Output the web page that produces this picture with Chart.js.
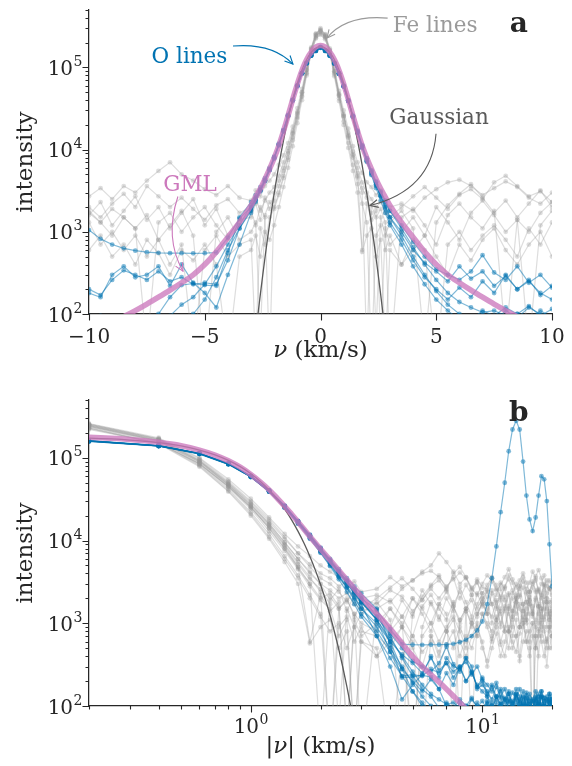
<!DOCTYPE html>
<html>
<head>
<meta charset="utf-8">
<script src="https://cdn.jsdelivr.net/npm/chart.js@4.4.1/dist/chart.umd.min.js"></script>
<style>
  body { margin: 0; background: #fff; }
  canvas { display: block; }
</style>
</head>
<body>
<canvas id="velPlot" width="572" height="383"></canvas>
<canvas id="absPlot" width="572" height="383"></canvas>
<script>
// velocity grid (km/s): coarse wings, finer core
const vel = [
  -20, -19.5, -19, -18.5, -18, -17.5, -17, -16.5, -16, -15.5, -15, -14.5, -14, -13.5, -13, -12.5, -12, -11.5, -11, -10.5,
  -10, -9.5, -9, -8.5, -8, -7.5, -7, -6.5, -6, -5.5, -5, -4.5, -4, -3.5,
  -3, -2.8, -2.6, -2.4, -2.2, -2, -1.8, -1.6, -1.4, -1.2, -1, -0.8, -0.6, -0.4, -0.2,
  0,
  0.2, 0.4, 0.6, 0.8, 1, 1.2, 1.4, 1.6, 1.8, 2, 2.2, 2.4, 2.6, 2.8, 3,
  3.5, 4, 4.5, 5, 5.5, 6, 6.5, 7, 7.5, 8, 8.5, 9, 9.5, 10,
  10.5, 11, 11.5, 12, 12.5, 13, 13.5, 14, 14.5, 15, 15.5, 16, 16.5, 17, 17.5, 18, 18.5, 19, 19.5, 20
];

// Fe line profiles (same grid as vel)
const fe1 = [
  1200, 1800, 900, 1500, 2200, 1300, 700, 1600, 2400, 1100, 1700, 900, 2000, 1400, 800, 1900, 2600, 1500, 1000, 2100,
  1600, 2300, 1200, 1800, 2700, 1400, 2000, 1100, 1700, 2500, 1200, 1900, 900, 1400,
  1500, 2200, 1400, 2600, 1900, 3000, 4200, 6000, 9500, 16000, 28000, 50000, 95000, 170000, 255000,
  300000,
  250000, 165000, 90000, 47000, 26000, 15000, 8800, 5200, 3400, 2600, 1700, 60, 1500, 900, 1300,
  1800, 1100, 40, 1300, 2100, 2900, 3800, 2600, 1700, 2400, 1500, 2200, 3200, 2000,
  1300, 2500, 1800, 900, 1600, 2300, 1400, 2000, 2800, 1700, 1100, 1900, 1300, 2400, 1600, 1000, 2100, 1500, 1200, 1800
];
const fe2 = [
  700, 1100, 500, 900, 1400, 800, 50, 1000, 600, 1300, 900, 400, 1100, 700, 1500, 900, 600, 1200, 800, 1000,
  1300, 700, 1000, 600, 900, 500, 800, 400, 700, 35, 600, 900, 500, 700,
  800, 40, 1100, 700, 1500, 1900, 2800, 4500, 7500, 13000, 24000, 44000, 85000, 160000, 240000,
  270000,
  235000, 155000, 82000, 42000, 22000, 12000, 6500, 3800, 2200, 1300, 30, 900, 1200, 600, 900,
  400, 800, 600, 30, 700, 1000, 600, 900, 1200, 800, 500, 1100, 700, 1300,
  900, 600, 1000, 1400, 800, 500, 1100, 700, 900, 1200, 600, 800, 1000, 500, 700, 1100, 800, 600, 900, 700
];
const fe3 = [
  2500, 3300, 2800, 3800, 3000, 2400, 3500, 4200, 3100, 2600, 3600, 2900, 2200, 3100, 3800, 2700, 2000, 2900, 3500, 2600,
  2700, 3400, 2500, 3600, 3000, 4200, 5500, 7000, 5000, 4200, 3300, 2800, 3600, 2600,
  2400, 3200, 2700, 3600, 4200, 5000, 6500, 8500, 12000, 19000, 32000, 55000, 100000, 175000, 260000,
  290000,
  255000, 170000, 98000, 52000, 30000, 18000, 11000, 7000, 5200, 4000, 3500, 2800, 3200, 2400, 2000,
  2200, 1800, 2600, 3300, 4000, 4300, 3600, 2800, 3400, 4100, 3500, 2600, 2200, 3000,
  3800, 3200, 2500, 2900, 3600, 4500, 3400, 2700, 3300, 4000, 3100, 2400, 3000, 3700, 4400, 3500, 2800, 3300, 2600, 3100
];
const fe4 = [
  900, 1400, 2000, 1200, 700, 1600, 1100, 45, 1300, 1800, 1000, 1500, 2100, 1200, 800, 1400, 1900, 1100, 700, 1300,
  1700, 1300, 1900, 1500, 1100, 1600, 800, 1200, 1800, 900, 30, 1000, 1500, 800,
  1000, 1300, 50, 1600, 2300, 2000, 3000, 4800, 8000, 14000, 25000, 45000, 85000, 150000, 225000,
  250000,
  220000, 150000, 85000, 45000, 25000, 14500, 8500, 4800, 600, 2200, 1400, 1800, 45, 1100, 700,
  1000, 1500, 900, 2000, 1300, 800, 1700, 2400, 1600, 1000, 1400, 40, 1200, 1800,
  2500, 1700, 1100, 1500, 2100, 1300, 900, 1600, 2200, 1400, 1000, 1700, 1200, 1900, 2600, 1500, 1100, 1800, 1300, 1000
];
const fe5 = [
  1600, 1100, 1800, 2500, 1500, 1000, 2000, 1300, 1700, 2300, 1400, 900, 1800, 1200, 2200, 1500, 1000, 1600, 2300, 1300,
  1800, 1300, 900, 1500, 1100, 40, 1300, 1700, 1000, 1500, 2000, 1200, 800, 1300,
  1800, 1200, 2000, 1500, 30, 2400, 3600, 5500, 9000, 15500, 27000, 48000, 92000, 168000, 250000,
  285000,
  245000, 160000, 88000, 46000, 25500, 14000, 8000, 4600, 3000, 35, 2100, 1500, 1900, 1300, 25,
  1500, 1900, 1200, 700, 1600, 2200, 1500, 1100, 1800, 50, 1400, 1000, 1700, 2300,
  1500, 1200, 1900, 1300, 800, 1500, 2000, 1300, 1700, 1100, 1500, 2100, 1400, 900, 1600, 1200, 1800, 1300, 900, 1400
];
const fe6 = [
  500, 800, 300, 600, 900, 400, 700, 35, 500, 800, 600, 350, 700, 500, 900, 600, 400, 750, 500, 300,
  600, 900, 500, 700, 400, 800, 550, 300, 600, 450, 700, 400, 30, 500,
  600, 900, 500, 1000, 800, 1200, 2000, 3500, 6000, 11000, 21000, 40000, 80000, 150000, 230000,
  260000,
  228000, 148000, 78000, 39000, 20000, 10500, 5500, 3000, 570, 900, 1100, 500, 800, 40, 600,
  400, 600, 900, 500, 300, 700, 450, 800, 1100, 600, 400, 700, 1000, 500,
  350, 650, 900, 550, 400, 800, 600, 450, 750, 1000, 600, 400, 700, 500, 850, 600, 400, 650, 500, 700
];
const fe7 = [
  1900, 2600, 2000, 3000, 2300, 1700, 2500, 3200, 2400, 1800, 2700, 2100, 3000, 2300, 1600, 2600, 3100, 2200, 1700, 2400,
  2000, 1500, 2200, 2900, 2000, 3600, 2700, 2000, 2600, 1900, 1400, 2100, 2500, 1700,
  2000, 2600, 1800, 2400, 3000, 3500, 4800, 7000, 10500, 17000, 29000, 50000, 93000, 165000, 245000,
  275000,
  240000, 160000, 90000, 48000, 27000, 16000, 9500, 6000, 4000, 3000, 2500, 2000, 2300, 1700, 1500,
  2000, 2700, 3500, 2600, 1900, 2800, 3300, 2500, 4000, 4800, 3600, 2700, 3100, 2300,
  2900, 3600, 2600, 2100, 2800, 3400, 2500, 1800, 2600, 3200, 2400, 1900, 2700, 3300, 2500, 2000, 2900, 2300, 2700, 2200
];

// O line profiles (same grid)
const o1 = [
  2800, 9000, 30000, 55000, 60000, 35000, 19000, 13000, 18000, 35000, 90000, 220000, 280000, 220000, 120000, 50000, 22000, 8500, 3500, 1700,
  1050, 820, 700, 630, 590, 565, 555, 550, 550, 548, 550, 560, 850, 1450,
  2000, 2500, 3200, 4200, 5700, 7900, 11400, 16800, 25500, 39500, 59000, 84000, 112000, 139000, 158000,
  174000,
  159000, 140000, 113000, 85000, 60000, 40000, 26000, 17000, 11300, 7800, 5500, 4000, 3000, 2300, 1800,
  1100, 650, 400, 260, 180, 140, 120, 105, 110, 95, 100, 85, 110, 90,
  105, 80, 95, 110, 85, 70, 95, 80, 100, 75, 90, 65, 85, 100, 70, 90, 60, 80, 70, 85
];
const o2 = [
  90, 120, 75, 100, 130, 85, 110, 70, 95, 120, 80, 105, 140, 90, 115, 75, 100, 130, 85, 110,
  70, 95, 80, 60, 85, 70, 100, 160, 225, 235, 225, 220, 550, 1500,
  2300, 2800, 3500, 4500, 6000, 8200, 11800, 17300, 26500, 40500, 60500, 85500, 113500, 140500, 161000,
  178000,
  161000, 141000, 113000, 84000, 59000, 39000, 25000, 16000, 10500, 7200, 5000, 3600, 2700, 2000, 1500,
  1000, 600, 420, 330, 250, 380, 270, 330, 220, 290, 200, 250, 180, 150,
  130, 170, 120, 150, 110, 140, 95, 125, 160, 110, 135, 90, 120, 150, 105, 130, 90, 115, 140, 100
];
const o3 = [
  110, 140, 95, 125, 150, 105, 130, 90, 115, 145, 100, 130, 160, 110, 140, 95, 125, 170, 120, 150,
  180, 160, 300, 380, 280, 300, 380, 220, 400, 240, 180, 120, 300, 700,
  1700, 2300, 3100, 4100, 5600, 7800, 11200, 16600, 25500, 39500, 59500, 84500, 112500, 139500, 159000,
  173000,
  158000, 138000, 111000, 83000, 58500, 39000, 25200, 16300, 10800, 7400, 5200, 3700, 2700, 1900, 1300,
  800, 450, 280, 200, 150, 210, 160, 250, 180, 300, 200, 260, 170, 220,
  140, 180, 130, 160, 120, 150, 105, 135, 115, 150, 100, 125, 95, 120, 140, 100, 125, 85, 110, 130
];
const o4 = [
  50, 80, 60, 95, 70, 110, 80, 60, 90, 70, 105, 80, 55, 85, 65, 95, 75, 110, 85, 60,
  95, 70, 55, 80, 60, 45, 70, 95, 130, 160, 230, 380, 700, 1200,
  2100, 2600, 3300, 4300, 5800, 8100, 11600, 17100, 26200, 40200, 60200, 85200, 113200, 140200, 160500,
  176000,
  160500, 139500, 112000, 84000, 59000, 39000, 25000, 16000, 10600, 7100, 4900, 3400, 2400, 1700, 1200,
  700, 380, 230, 150, 110, 85, 70, 95, 80, 110, 90, 120, 100, 85,
  115, 95, 130, 105, 90, 120, 100, 140, 110, 95, 125, 105, 85, 115, 95, 130, 100, 80, 110, 90
];
const o5 = [
  70, 95, 120, 85, 105, 130, 90, 115, 80, 100, 125, 85, 110, 75, 95, 120, 90, 70, 100, 130,
  200, 170, 260, 340, 300, 260, 330, 250, 280, 230, 240, 230, 450, 1100,
  1900, 2500, 3200, 4200, 5700, 7900, 11400, 16900, 25800, 39800, 59800, 84800, 112800, 139800, 159800,
  174500,
  159800, 139800, 112800, 84800, 59800, 39800, 25800, 16800, 11200, 7800, 5600, 4100, 3100, 2400, 1800,
  1200, 750, 500, 350, 300, 260, 330, 520, 320, 260, 380, 240, 300, 210,
  180, 150, 190, 130, 160, 110, 145, 120, 90, 130, 105, 140, 115, 85, 120, 150, 100, 130, 95, 120
];
const o6 = [
  45, 70, 55, 85, 60, 40, 75, 55, 90, 65, 50, 80, 60, 95, 70, 50, 85, 65, 100, 75,
  55, 80, 60, 90, 70, 50, 75, 60, 85, 100, 150, 280, 600, 1100,
  1800, 2400, 3200, 4200, 5700, 8000, 11500, 17000, 26000, 40000, 60000, 85000, 113000, 140000, 160000,
  175500,
  160000, 139000, 112000, 84000, 59000, 39500, 25500, 16500, 11000, 7500, 5300, 3800, 2800, 2100, 1500,
  900, 500, 300, 190, 130, 100, 85, 110, 95, 120, 100, 125, 95, 115,
  90, 110, 85, 105, 125, 95, 115, 90, 120, 100, 80, 110, 95, 125, 100, 85, 115, 95, 120, 100
];

// model profiles, given for |v| and mirrored for the signed panel
const gmlAbsVel = [0, 0.1, 0.2, 0.3, 0.4, 0.5, 0.6, 0.7, 0.8, 0.9, 1, 1.1, 1.2, 1.3, 1.4, 1.5, 1.6, 1.8, 2,
  2.25, 2.5, 2.75, 3, 3.5, 4, 4.5, 5, 5.5, 6, 6.5, 7, 7.5, 8, 8.5, 9, 10, 12, 15, 20];
const gmlInt = [185000, 183000, 177000, 167000, 154000, 140000, 124000, 108000, 92000, 77000, 63000, 51000, 41000, 32500, 26000, 20800, 16800, 11200, 7900,
  5400, 3800, 2800, 2100, 1300, 860, 570, 400, 300, 240, 195, 160, 132, 110, 93, 80, 62, 42, 28, 18];
const gaussAbsVel = [0, 0.1, 0.2, 0.3, 0.4, 0.5, 0.6, 0.7, 0.8, 0.9, 1, 1.1, 1.2, 1.3, 1.4, 1.5,
  1.6, 1.7, 1.8, 1.9, 2, 2.1, 2.2, 2.3, 2.4, 2.5, 2.6, 2.7, 2.8, 2.9, 3];
const gaussInt = [180000, 178200, 172700, 164100, 152700, 139200, 124300, 108700, 93200, 78200, 64300, 51800, 40900, 31600, 24000, 17800,
  12900, 9200, 6420, 4390, 2940, 1930, 1240, 780, 480, 290, 172, 100, 57, 32, 17];

// ticks ('^' marks the exponent)
const yTicks = [1e2, 1e3, 1e4, 1e5];
const yTickLabels = ['10^2', '10^3', '10^4', '10^5'];
const xTicksTop = [-10, -5, 0, 5, 10];
const xTickLabelsTop = ['\u221210', '\u22125', '0', '5', '10'];
const xTicksBottom = [1, 10];
const xTickLabelsBottom = ['10^0', '10^1'];

const ink = '#262626';
const feColor = 'rgba(148, 148, 148, 0.32)';
const oColor = 'rgba(1, 115, 178, 0.5)';
const gmlColor = 'rgba(204, 120, 188, 0.78)';
const gaussColor = '#5a5a5a';
const serif = "'DejaVu Serif', serif";
Chart.defaults.font.family = serif;

const feSeries = [fe1, fe2, fe3, fe4, fe5, fe6, fe7];
const oSeries = [o1, o2, o3, o4, o5, o6];

const yMinor = [];
[100, 1000, 10000, 100000].forEach(d => {
  for (let k = 2; k <= 9; k++) if (k * d <= 5e5) yMinor.push(k * d);
});
const xMinorBottom = [0.2, 0.3, 0.4, 0.5, 0.6, 0.7, 0.8, 0.9, 2, 3, 4, 5, 6, 7, 8, 9, 20];

function onGrid(vals) {
  return vel.map((v, i) => ({x: v, y: vals[i]}));
}
function folded(vals, side) {
  const pts = [];
  vel.forEach((v, i) => { if (v * side > 0) pts.push({x: Math.abs(v), y: vals[i]}); });
  return pts.sort((a, b) => a.x - b.x);
}
function mirrored(absV, vals) {
  const pts = [];
  for (let i = absV.length - 1; i > 0; i--) pts.push({x: -absV[i], y: vals[i]});
  absV.forEach((v, i) => pts.push({x: v, y: vals[i]}));
  return pts;
}
function halfOnly(absV, vals) {
  return absV.map((v, i) => ({x: v, y: vals[i]})).filter(p => p.x > 0);
}

function lineSet(points, color) {
  return {
    data: points, borderColor: color, backgroundColor: color, pointBackgroundColor: color,
    borderWidth: 1.2, pointRadius: 2.4, pointBorderWidth: 0
  };
}
function modelSets(gml, gauss) {
  return [
    {data: gml, borderColor: gmlColor, borderWidth: 5.5, pointRadius: 0, cubicInterpolationMode: 'monotone', borderCapStyle: 'round'},
    {data: gauss, borderColor: gaussColor, borderWidth: 1.3, pointRadius: 0, cubicInterpolationMode: 'monotone'}
  ];
}

function arrow(ctx, p0, p1, p2, color) {
  ctx.strokeStyle = color;
  ctx.lineWidth = 1.1;
  ctx.beginPath();
  ctx.moveTo(p0.x, p0.y);
  ctx.quadraticCurveTo(p1.x, p1.y, p2.x, p2.y);
  ctx.stroke();
  const ang = Math.atan2(p2.y - p1.y, p2.x - p1.x);
  ctx.beginPath();
  ctx.moveTo(p2.x - 9 * Math.cos(ang - 0.45), p2.y - 9 * Math.sin(ang - 0.45));
  ctx.lineTo(p2.x, p2.y);
  ctx.lineTo(p2.x - 9 * Math.cos(ang + 0.45), p2.y - 9 * Math.sin(ang + 0.45));
  ctx.stroke();
}

// tick label with optional exponent after '^'
function tickLabel(ctx, label, x, y, align) {
  const [base, exp] = label.split('^');
  ctx.font = '20px ' + serif;
  const wb = ctx.measureText(base).width;
  let we = 0;
  if (exp) { ctx.font = '14px ' + serif; we = ctx.measureText(exp).width; }
  const x0 = align === 'right' ? x - wb - we : x - (wb + we) / 2;
  ctx.textAlign = 'left';
  ctx.font = '20px ' + serif;
  ctx.fillText(base, x0, y);
  if (exp) {
    ctx.font = '14px ' + serif;
    ctx.fillText(exp, x0 + wb + 0.5, y - 9);
  }
}

const decor = {
  id: 'decor',
  afterDraw(chart, args, o) {
    const {ctx, chartArea: a, scales: {x, y}} = chart;
    const at = p => ({x: x.getPixelForValue(p[0]), y: y.getPixelForValue(p[1])});
    ctx.save();
    // tick marks
    ctx.strokeStyle = ink;
    ctx.lineWidth = 1.1;
    ctx.beginPath();
    yTicks.forEach(v => { const p = Math.round(y.getPixelForValue(v)) + 0.5; ctx.moveTo(a.left, p); ctx.lineTo(a.left - 6.5, p); });
    yMinor.forEach(v => { const p = Math.round(y.getPixelForValue(v)) + 0.5; ctx.moveTo(a.left, p); ctx.lineTo(a.left - 3.5, p); });
    o.xMajor.forEach(v => { const p = Math.round(x.getPixelForValue(v)) + 0.5; ctx.moveTo(p, a.bottom); ctx.lineTo(p, a.bottom + 6.5); });
    o.xMinor.forEach(v => { const p = Math.round(x.getPixelForValue(v)) + 0.5; ctx.moveTo(p, a.bottom); ctx.lineTo(p, a.bottom + 3.5); });
    ctx.stroke();

    // tick labels
    ctx.fillStyle = ink;
    ctx.textBaseline = 'alphabetic';
    yTicks.forEach((v, i) => tickLabel(ctx, yTickLabels[i], a.left - 7, y.getPixelForValue(v) + 7.5, 'right'));
    o.xMajor.forEach((v, i) => tickLabel(ctx, o.xLabels[i], x.getPixelForValue(v), a.bottom + o.labelDrop, 'center'));

    // axis titles
    ctx.textBaseline = 'middle';
    ctx.save();
    ctx.translate(26, (a.top + a.bottom) / 2);
    ctx.rotate(-Math.PI / 2);
    ctx.textAlign = 'center';
    ctx.font = '23px ' + serif;
    ctx.fillText('intensity', 0, 0);
    ctx.restore();
    const parts = o.xTitle;
    let w = 0;
    parts.forEach(p => { ctx.font = (p.italic ? 'italic ' : '') + '23px ' + serif; w += ctx.measureText(p.t).width; });
    let tx = (a.left + a.right) / 2 - w / 2;
    ctx.textAlign = 'left';
    parts.forEach(p => {
      ctx.font = (p.italic ? 'italic ' : '') + '23px ' + serif;
      ctx.fillText(p.t, tx, a.bottom + o.titleGap);
      tx += ctx.measureText(p.t).width;
    });

    // annotations
    ctx.textAlign = 'center';
    o.notes.forEach(n => {
      const c = at(n.at);
      ctx.fillStyle = n.color;
      ctx.font = n.font;
      ctx.fillText(n.text, c.x, c.y);
      if (n.from) arrow(ctx, at(n.from), at(n.via), at(n.to), n.color);
    });
    ctx.restore();
  }
};

function axes(xScale, xHeight) {
  return {
    x: Object.assign({
      afterFit: s => { s.height = xHeight; s.paddingLeft = 0; s.paddingRight = 0; },
      grid: {display: false, drawTicks: false},
      border: {display: true, color: ink, width: 1.25},
      ticks: {display: false}
    }, xScale),
    y: {
      type: 'logarithmic', min: 100, max: 5e5,
      afterFit: s => { s.width = 89; s.paddingTop = 0; s.paddingBottom = 0; },
      grid: {display: false, drawTicks: false},
      border: {display: true, color: ink, width: 1.25},
      ticks: {display: false}
    }
  };
}

const noteFont = '21.5px ' + serif;
const letterFont = 'bold 28px ' + serif;

new Chart(document.getElementById('velPlot'), {
  type: 'line',
  data: {
    datasets: [
      ...modelSets(mirrored(gmlAbsVel, gmlInt), mirrored(gaussAbsVel, gaussInt)),
      ...oSeries.map(s => lineSet(onGrid(s), oColor)),
      ...feSeries.map(s => lineSet(onGrid(s), feColor))
    ]
  },
  options: {
    responsive: false,
    animation: false,
    layout: {padding: {top: 10, right: 20, left: 0, bottom: 0}},
    plugins: {
      legend: {display: false},
      tooltip: {enabled: false},
      decor: {
        xMajor: xTicksTop, xLabels: xTickLabelsTop, xMinor: [], labelDrop: 29, titleGap: 37,
        xTitle: [{t: '\u03bd', italic: true}, {t: ' (km/s)'}],
        notes: [
          {text: 'O lines', color: '#0173b2', font: noteFont, at: [-5.66, 1.32e5], from: [-3.78, 1.82e5], via: [-2.1, 2.0e5], to: [-1.19, 1.1e5]},
          {text: 'Fe lines', color: '#9a9a9a', font: noteFont, at: [4.95, 3.18e5], from: [2.9, 3.98e5], via: [1.1, 4.4e5], to: [0.28, 2.28e5]},
          {text: 'Gaussian', color: '#5a5a5a', font: noteFont, at: [5.12, 2.38e4], from: [4.99, 1.56e4], via: [4.8, 3.2e3], to: [2.14, 2.09e3]},
          {text: 'GML', color: '#cc78bc', font: noteFont, at: [-5.64, 3.66e3], from: [-6.16, 2.69e3], via: [-6.75, 8.3e2], to: [-5.94, 3.32e2]},
          {text: 'a', color: ink, font: letterFont, at: [8.57, 3.27e5]}
        ]
      }
    },
    scales: axes({type: 'linear', min: -10, max: 10}, 69)
  },
  plugins: [decor]
});

new Chart(document.getElementById('absPlot'), {
  type: 'line',
  data: {
    datasets: [
      ...modelSets(halfOnly(gmlAbsVel, gmlInt), halfOnly(gaussAbsVel, gaussInt)),
      ...oSeries.flatMap(s => [lineSet(folded(s, 1), oColor), lineSet(folded(s, -1), oColor)]),
      ...feSeries.flatMap(s => [lineSet(folded(s, 1), feColor), lineSet(folded(s, -1), feColor)])
    ]
  },
  options: {
    responsive: false,
    animation: false,
    layout: {padding: {top: 17, right: 20, left: 0, bottom: 0}},
    plugins: {
      legend: {display: false},
      tooltip: {enabled: false},
      decor: {
        xMajor: xTicksBottom, xLabels: xTickLabelsBottom, xMinor: xMinorBottom, labelDrop: 27, titleGap: 41,
        xTitle: [{t: '|'}, {t: '\u03bd', italic: true}, {t: '| (km/s)'}],
        notes: [
          {text: 'b', color: ink, font: letterFont, at: [14.36, 3.43e5]}
        ]
      }
    },
    scales: axes({type: 'logarithmic', min: 0.2, max: 20}, 60)
  },
  plugins: [decor]
});
</script>
</body>
</html>
